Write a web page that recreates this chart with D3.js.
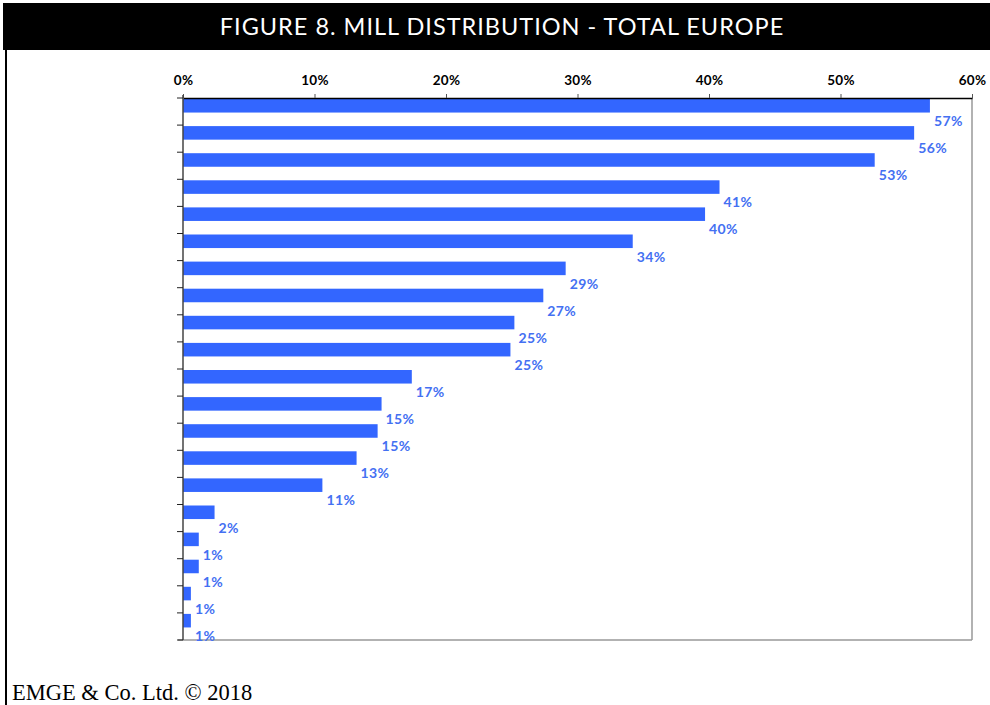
<!DOCTYPE html>
<html>
<head>
<meta charset="utf-8">
<script src="https://cdn.jsdelivr.net/npm/d3@7"></script>
<style>
  html, body { margin: 0; padding: 0; background: #fff; }
  svg { display: block; }
</style>
</head>
<body>
<svg id="chart" width="990" height="705"></svg>
<script>
// Share of mills per category, sorted from largest to smallest
const categories = ["c1","c2","c3","c4","c5","c6","c7","c8","c9","c10",
                    "c11","c12","c13","c14","c15","c16","c17","c18","c19","c20"];
const shares = [56.8, 55.6, 52.6, 40.8, 39.7, 34.2, 29.1, 27.4, 25.2, 24.9,
                17.4, 15.1, 14.8, 13.2, 10.6, 2.4, 1.2, 1.2, 0.6, 0.6];
const tickValues = [0, 10, 20, 30, 40, 50, 60];
const titleText = "FIGURE 8. MILL DISTRIBUTION - TOTAL EUROPE";
const footerText = "EMGE & Co. Ltd. \u00A9 2018";

const svg = d3.select("#chart");
const W = 990, H = 705;
const plot = { left: 183, right: 972, top: 98, bottom: 640 };

// Title band
svg.append("rect").attr("x", 3).attr("y", 3).attr("width", W - 3).attr("height", 47).attr("fill", "#000");
svg.append("text")
  .attr("x", 502).attr("y", 35)
  .attr("text-anchor", "middle")
  .attr("fill", "#fff")
  .attr("font-family", "Lato, 'Open Sans', sans-serif")
  .attr("font-weight", 400)
  .attr("font-size", 23.5)
  .attr("letter-spacing", 1.0)
  .text(titleText);

// Left frame rule
svg.append("line").attr("x1", 6).attr("x2", 6).attr("y1", 50).attr("y2", H)
  .attr("stroke", "#000").attr("stroke-width", 2);

const x = d3.scaleLinear().domain([0, 60]).range([plot.left, plot.right]);
const y = d3.scaleBand().domain(categories).range([plot.top, plot.bottom]).padding(0);

// Plot frame: right and bottom edges in grey
svg.append("line").attr("x1", plot.right).attr("x2", plot.right).attr("y1", plot.top).attr("y2", plot.bottom)
  .attr("stroke", "#999").attr("stroke-width", 1.5);
svg.append("line").attr("x1", plot.left - 5).attr("x2", plot.right).attr("y1", plot.bottom).attr("y2", plot.bottom)
  .attr("stroke", "#999").attr("stroke-width", 1.5);

// Bars sit in the upper half of each band, values underneath
const barH = y.bandwidth() * 0.5;
svg.append("g").selectAll("rect").data(shares).join("rect")
  .attr("x", x(0))
  .attr("y", (d, i) => y(categories[i]) + 1)
  .attr("width", d => x(d) - x(0))
  .attr("height", barH)
  .attr("fill", "#3366FF");

svg.append("g").selectAll("text").data(shares).join("text")
  .attr("x", d => x(d) + 4)
  .attr("y", (d, i) => y(categories[i]) + 28)
  .attr("fill", "#4470f2")
  .attr("font-family", "Lato, 'Open Sans', sans-serif")
  .attr("font-weight", "bold")
  .attr("font-size", 14)
  .attr("letter-spacing", 0.4)
  .text(d => Math.round(d) + "%");

// Top value axis
const xAxis = d3.axisTop(x).tickValues(tickValues).tickSize(4).tickSizeOuter(0)
  .tickFormat(d => d + "%");
const gx = svg.append("g").attr("transform", `translate(0,${plot.top})`).call(xAxis);
gx.select(".domain").attr("stroke", "#000").attr("stroke-width", 1.5);
gx.selectAll(".tick line").attr("stroke", "#555");
gx.selectAll(".tick text")
  .attr("y", -13)
  .attr("fill", "#000")
  .attr("font-family", "Lato, 'Open Sans', sans-serif")
  .attr("font-weight", "bold")
  .attr("font-size", 13.5)
  .attr("letter-spacing", 0.3);

// Category axis with blank labels, ticks at band edges
const edges = categories.map(c => y(c)).concat([plot.bottom]);
svg.append("line").attr("x1", plot.left).attr("x2", plot.left).attr("y1", plot.top - 3).attr("y2", plot.bottom)
  .attr("stroke", "#444").attr("stroke-width", 1.5);
svg.append("g").selectAll("line").data(edges).join("line")
  .attr("x1", plot.left - 6).attr("x2", plot.left)
  .attr("y1", d => d).attr("y2", d => d)
  .attr("stroke", "#222").attr("stroke-width", 1);

// Footer
svg.append("text")
  .attr("x", 12).attr("y", 700)
  .attr("fill", "#000")
  .attr("font-family", "'Liberation Serif', 'DejaVu Serif', serif")
  .attr("font-size", 22.5)
  .text(footerText);
</script>
</body>
</html>
